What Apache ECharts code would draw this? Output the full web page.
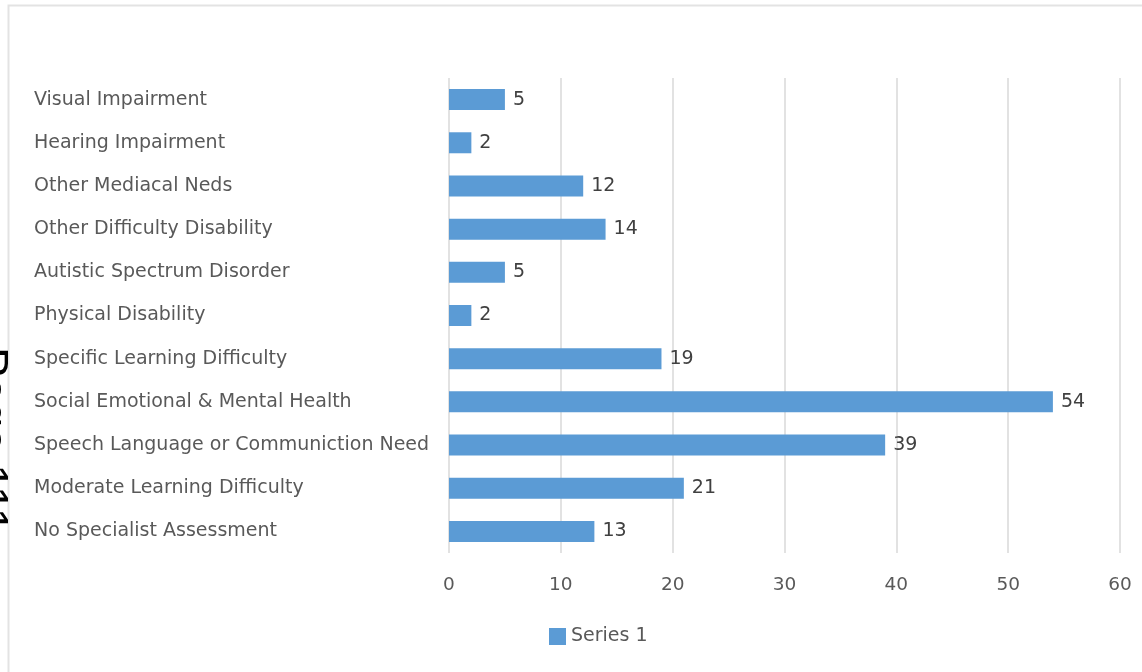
<!DOCTYPE html>
<html><head><meta charset="utf-8">
<script src="https://cdn.jsdelivr.net/npm/echarts@6/dist/echarts.min.js"></script>
<style>html,body{margin:0;padding:0;background:#fff}#c{width:1142px;height:672px}</style>
</head><body><div id="c"></div>
<script>
const categories = [
  "Visual Impairment",
  "Hearing Impairment",
  "Other Mediacal Neds",
  "Other Difficulty Disability",
  "Autistic Spectrum Disorder",
  "Physical Disability",
  "Specific Learning Difficulty",
  "Social Emotional & Mental Health",
  "Speech Language or Communiction Need",
  "Moderate Learning Difficulty",
  "No Specialist Assessment"
];
const values = [5, 2, 12, 14, 5, 2, 19, 54, 39, 21, 13];
const seriesName = "Series 1";
const pageText = "Page 111";

const chart = echarts.init(document.getElementById('c'), null, {renderer: 'canvas'});
const font = "'DejaVu Sans', sans-serif";
chart.setOption({
  animation: false,
  backgroundColor: '#ffffff',
  graphic: [
    {type: 'rect', shape: {x: 8.5, y: 5.5, width: 1300, height: 800}, style: {fill: 'none', stroke: '#e3e3e3', lineWidth: 2}, silent: true},
    {type: 'text', x: 12, y: 347, rotation: -Math.PI / 2, style: {text: pageText, font: "45px 'Liberation Sans', Arial, sans-serif", fill: '#000', textAlign: 'left', textVerticalAlign: 'top'}}
  ],
  grid: {left: 449, right: 22, top: 78, bottom: 119, containLabel: false},
  legend: {
    data: [seriesName], bottom: 21, left: 544, itemWidth: 17, itemHeight: 17, itemGap: 4,
    icon: 'rect',
    textStyle: {color: '#595959', fontSize: 19, fontFamily: font, padding: [0, 0, 0, 0]}
  },
  xAxis: {
    type: 'value', min: 0, max: 60, interval: 10,
    axisLine: {show: false}, axisTick: {show: false},
    splitLine: {lineStyle: {color: '#d9d9d9', width: 1.5}},
    axisLabel: {color: '#595959', fontSize: 18.5, fontFamily: font, margin: 23}
  },
  yAxis: {
    type: 'category', data: categories, inverse: true,
    axisLine: {show: false}, axisTick: {show: false},
    axisLabel: {color: '#595959', fontSize: 19, fontFamily: font, align: 'left', margin: 415}
  },
  series: [{
    name: seriesName, type: 'bar', data: values, barWidth: 21,
    itemStyle: {color: '#5b9bd5'},
    label: {show: true, position: 'right', distance: 8, color: '#404040', fontSize: 19, fontFamily: font}
  }]
});
</script></body></html>
